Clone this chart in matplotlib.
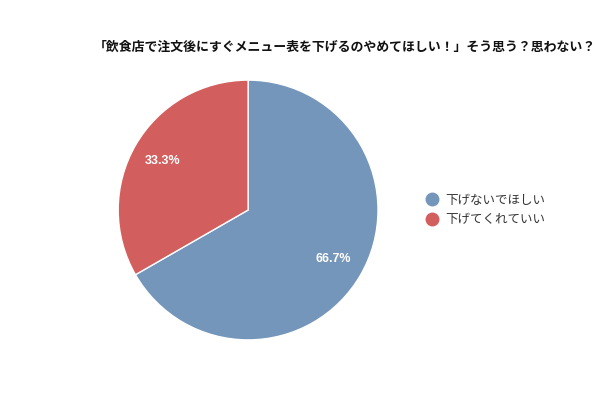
import matplotlib
matplotlib.use("Agg")
import matplotlib.pyplot as plt
from matplotlib.lines import Line2D

plt.rcParams['font.family'] = ['Noto Sans CJK JP', 'DejaVu Sans']

# data
labels = ["下げないでほしい", "下げてくれていい"]
values = [66.7, 33.3]
colors = ["#7596BB", "#D35E5E"]
title = "「飲食店で注文後にすぐメニュー表を下げるのやめてほしい！」そう思う？思わない？"

fig = plt.figure(figsize=(6, 4), dpi=100)
ax = fig.add_axes([0.197, 0.15, 0.433, 0.65])

wedges, texts, autotexts = ax.pie(
    values, colors=colors, startangle=90, counterclock=False,
    autopct="%.1f%%", pctdistance=0.76,
    wedgeprops=dict(edgecolor="white", linewidth=1),
    textprops=dict(color="white", fontsize=9, fontweight="bold",
                   family=["Liberation Sans", "DejaVu Sans"]),
)
ax.set_xlim(-1, 1)
ax.set_ylim(-1, 1)
ax.set_aspect("equal")

fig.text(0.574, 0.882, title, ha="center", va="center",
         fontsize=9.3, fontweight="bold", color="#111111")

handles = [Line2D([0], [0], marker="o", linestyle="", markersize=9,
                  markerfacecolor=c, markeredgecolor=c) for c in colors]
fig.legend(handles, labels, loc="center left", bbox_to_anchor=(0.68, 0.475),
           frameon=False, fontsize=9, handletextpad=0.1, labelspacing=0.55,
           labelcolor="#333333")

fig.savefig("out.png", dpi=100)
